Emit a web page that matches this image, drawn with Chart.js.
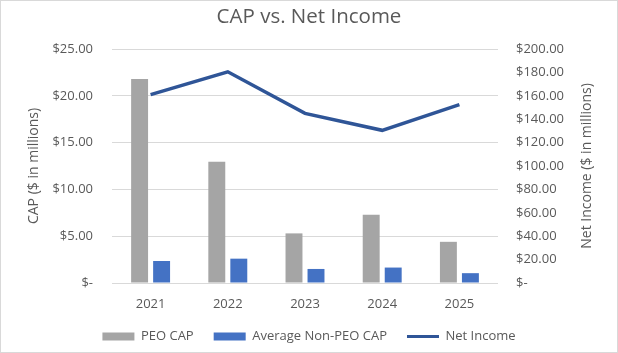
<!DOCTYPE html>
<html>
<head>
<meta charset="utf-8">
<script src="https://cdn.jsdelivr.net/npm/chart.js@4"></script>
<style>
  html, body { margin: 0; padding: 0; background: #fff; }
  #wrap { position: relative; width: 618px; height: 353px; }
  #frame { position: absolute; left: 0; top: 0; width: 618px; height: 353px; box-sizing: border-box; border: 1px solid #d9d9d9; pointer-events: none; }
</style>
</head>
<body>
<div id="wrap">
  <canvas id="capChart" width="618" height="353"></canvas>
  <div id="frame"></div>
</div>
<script>
// Data
const years = ['2021', '2022', '2023', '2024', '2025'];
const peoCap = [21.8, 12.95, 5.3, 7.3, 4.4];
const nonPeoCap = [2.35, 2.6, 1.5, 1.65, 1.05];
const netIncome = [161, 180.5, 145, 130.5, 152.5];

const TEXT = '#595959';
const FONT = "'Open Sans', sans-serif";

function money(v) {
  return v === 0 ? '$-' : '$' + v.toFixed(2);
}

// right axis title reads bottom-to-top like the left one
const rightTitle = {
  id: 'rightTitle',
  afterDraw(chart) {
    const c = chart.ctx;
    const area = chart.chartArea;
    c.save();
    c.translate(587, (area.top + area.bottom) / 2);
    c.rotate(-Math.PI / 2);
    c.font = '14px ' + FONT;
    c.fillStyle = TEXT;
    c.textAlign = 'center';
    c.textBaseline = 'middle';
    c.fillText('Net Income ($ in millions)', 0, 0);
    c.restore();
  }
};

const ctx = document.getElementById('capChart').getContext('2d');

new Chart(ctx, {
  data: {
    labels: years,
    datasets: [
      {
        type: 'bar',
        label: 'PEO CAP',
        data: peoCap,
        backgroundColor: '#A5A5A5',
        yAxisID: 'y',
        order: 1,
        categoryPercentage: 0.57,
        barPercentage: 0.77
      },
      {
        type: 'bar',
        label: 'Average Non-PEO CAP',
        data: nonPeoCap,
        backgroundColor: '#4472C4',
        yAxisID: 'y',
        order: 1,
        categoryPercentage: 0.57,
        barPercentage: 0.77
      },
      {
        type: 'line',
        label: 'Net Income',
        data: netIncome,
        borderColor: '#2F5597',
        backgroundColor: '#2F5597',
        borderWidth: 3.5,
        pointRadius: 0,
        tension: 0,
        yAxisID: 'y1',
        order: 0
      }
    ]
  },
  options: {
    responsive: false,
    animation: false,
    layout: { padding: 0 },
    plugins: {
      title: {
        display: true,
        text: 'CAP vs. Net Income',
        color: TEXT,
        font: { family: FONT, size: 20.5, weight: 'normal' },
        padding: { top: 5, bottom: 19.4 }
      },
      legend: {
        position: 'bottom',
        labels: {
          usePointStyle: true,
          pointStyleWidth: 32,
          boxHeight: 8,
          padding: 20,
          color: TEXT,
          font: { family: FONT, size: 13 },
          generateLabels: (chart) => chart.data.datasets.map((ds, i) => ({
            text: ds.label,
            fillStyle: ds.type === 'line' ? ds.borderColor : ds.backgroundColor,
            strokeStyle: ds.type === 'line' ? ds.borderColor : ds.backgroundColor,
            lineWidth: ds.type === 'line' ? 3 : 0,
            pointStyle: ds.type === 'line' ? 'line' : 'rect',
            fontColor: TEXT,
            hidden: false,
            datasetIndex: i
          }))
        }
      },
      tooltip: { enabled: false }
    },
    scales: {
      x: {
        grid: { display: false, drawTicks: false },
        border: { display: false },
        ticks: { color: TEXT, font: { family: FONT, size: 13 }, padding: 13 },
        afterFit: (s) => { s.height = 27; }
      },
      y: {
        position: 'left',
        min: 0,
        max: 25,
        ticks: { stepSize: 5, color: TEXT, font: { family: FONT, size: 13 }, padding: 19, callback: (v) => money(v) },
        grid: { color: '#D9D9D9', drawTicks: false },
        border: { display: false },
        title: {
          display: true,
          text: 'CAP ($ in millions)',
          color: TEXT,
          font: { family: FONT, size: 14 },
          padding: { top: 26, bottom: 0 }
        },
        afterFit: (s) => { s.width = 112; }
      },
      y1: {
        position: 'right',
        min: 0,
        max: 200,
        ticks: { stepSize: 20, color: TEXT, font: { family: FONT, size: 13 }, padding: 18, callback: (v) => money(v) },
        grid: { display: false, drawTicks: false },
        border: { display: false },
        afterFit: (s) => { s.width = 120; }
      }
    }
  },
  plugins: [rightTitle]
});
</script>
</body>
</html>
